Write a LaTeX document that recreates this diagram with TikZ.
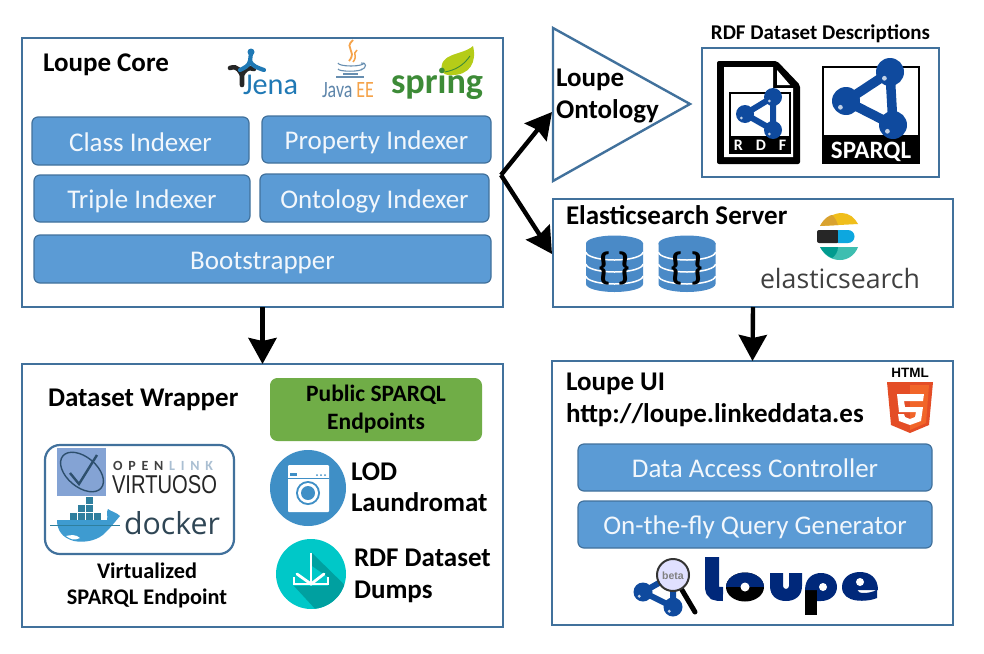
\documentclass[tikz,border=0pt]{standalone}
\usepackage{fontspec}
\usepackage{graphicx}
\setmainfont{Carlito}
\newfontfamily\osans{Open Sans}
\newfontfamily\hsans{Liberation Sans}
\usetikzlibrary{arrows.meta,shapes.geometric}
\definecolor{edgeblue}{HTML}{41719C}
\definecolor{fillblue}{HTML}{5B9BD5}
\definecolor{ballblue}{HTML}{0F4A9E}
\definecolor{loupeblue}{HTML}{00287A}
\definecolor{pubgreen}{HTML}{70AD47}
\definecolor{jenablue}{HTML}{2079B5}
\definecolor{springgreen}{HTML}{3D8B37}
\definecolor{leafgreen}{HTML}{B5CC18}
\definecolor{cylblue}{HTML}{4A8AC7}
\definecolor{washblue}{HTML}{3F8FC6}
\definecolor{dlcyan}{HTML}{00C8C8}
\definecolor{dlshadow}{HTML}{00A0A0}
\definecolor{whaleblue}{HTML}{3E9BD0}
\definecolor{whalebox}{HTML}{2F7F9E}
\definecolor{dockerink}{HTML}{2F4655}
\definecolor{htmlred}{HTML}{E44D26}
\definecolor{htmlorange}{HTML}{F16529}
\definecolor{javaorange}{HTML}{F5A34A}
\definecolor{esyellow}{HTML}{F0BE1B}
\definecolor{esamber}{HTML}{D9A22F}
\definecolor{esblue}{HTML}{0DA7DF}
\definecolor{esteal}{HTML}{3EBEB0}
\definecolor{esdeep}{HTML}{019B8F}
\definecolor{virtblue}{HTML}{84A3D4}
\tikzset{
  panel/.style={draw=edgeblue,line width=2.4pt,fill=white,anchor=north west,inner sep=0pt,outer sep=0pt},
  bluebox/.style={draw=edgeblue,line width=1.2pt,fill=fillblue,rounded corners=6pt,anchor=center,inner sep=0pt,text=white!92!fillblue,text height=20pt,text depth=0pt,font=\fontsize{27}{30}\selectfont},
  txt/.style={anchor=base west,inner sep=0pt,outer sep=0pt},
  ctxt/.style={anchor=base,inner sep=0pt,outer sep=0pt},
  bigarrow/.style={line width=4.4pt,black,-{Stealth[length=26pt,width=28pt,inset=3pt]}},
  sizeA/.style={font=\fontsize{27}{30}\selectfont\bfseries},
  sizeC/.style={font=\fontsize{22.3}{26}\selectfont\bfseries},
}
% one ball: #1 = centre, #2 = radius
\newcommand{\oneball}[2]{%
  \fill[ballblue] (#1) circle[radius=#2];
  \fill[white,opacity=.75] (#1) ++(-.4*#2,-.45*#2) circle[radius=.17*#2];}
% three-ball graph icon: #1 #2 #3 = centres, #4 = radius, #5 = link width
\newcommand{\ballgraph}[5]{%
  \draw[ballblue,line width=#5,line join=round] (#1) -- (#2) -- (#3) -- cycle;
  \oneball{#1}{#4}\oneball{#2}{#4}\oneball{#3}{#4}}
\begin{document}
\begin{tikzpicture}[x=1pt,y=-1pt]
\useasboundingbox (0,0) rectangle (984,653);
\fill[white] (0,0) rectangle (984,653);

% ---------- panels
\node[panel,minimum width=481pt,minimum height=269pt] (core) at (22,38) {};
\node[panel,minimum width=237pt,minimum height=129pt] (rdfbox) at (702,48) {};
\node[panel,minimum width=400pt,minimum height=108pt] (esbox) at (553,199) {};
\node[panel,minimum width=481pt,minimum height=263pt] (wrapper) at (22,364) {};
\node[panel,minimum width=401pt,minimum height=264pt] (ui) at (552,361) {};
\draw[edgeblue,line width=2.4pt,fill=white,line join=miter] (553,28) -- (690,104) -- (553,181) -- cycle;

% ---------- Loupe core content
\node[txt,sizeA] (coretitle) at (43,71) {Loupe Core};
\node[bluebox,minimum width=217pt,minimum height=48pt] (classidx) at (140.5,141) {Class Indexer};
\node[bluebox,minimum width=229pt,minimum height=47pt] (propidx) at (376.5,139.5) {Property Indexer};
\node[bluebox,minimum width=216pt,minimum height=47pt] (tripleidx) at (142,198.5) {Triple Indexer};
\node[bluebox,minimum width=229pt,minimum height=48pt] (ontoidx) at (374.5,198) {Ontology Indexer};
\node[bluebox,minimum width=457pt,minimum height=48pt] (boot) at (262.5,259) {Bootstrapper};

% Jena logo
\draw[black!85,line width=4.6pt,line cap=round] (230,68) .. controls (238,65) and (240,72) .. (242,75);
\draw[black!85,line width=4.6pt,line cap=round] (254,69) .. controls (248,66) and (244,71) .. (242,75) -- (242,85);
\draw[jenablue,line width=4.2pt,line cap=round] (251,53) -- (250,61) .. controls (249,66) and (244,68) .. (240,70);
\draw[jenablue,line width=4.2pt,line cap=round] (250,61) .. controls (252,66) and (258,68) .. (264,70);
\fill[jenablue] (251,52) circle[radius=3.5pt];
\node[txt,text=jenablue] (jenatxt) at (243,94) {\resizebox{55pt}{!}{\fontsize{30}{32}\selectfont Jena}};

% Java EE logo
\draw[javaorange,line width=1.8pt] (353,40) .. controls (343,49) and (358,50) .. (349,61);
\draw[javaorange,line width=1.5pt] (357,50) .. controls (352,54) and (358,56) .. (353,62);
\draw[edgeblue!80,line width=1.1pt] (338,63) arc[start angle=180,end angle=360,x radius=13pt,y radius=3pt];
\draw[edgeblue!80,line width=1.1pt] (338,69) arc[start angle=180,end angle=360,x radius=12pt,y radius=2.2pt];
\draw[edgeblue!80,line width=1.1pt] (343,74) -- (358,74);
\draw[edgeblue!80,line width=1.1pt] (336,77) -- (364,77);
\draw[edgeblue!80,line width=1.1pt] (361,63) .. controls (367,62) and (367,68) .. (361,70);
\node[txt] (javatxt) at (322,97) {\resizebox{52pt}{15pt}{\fontsize{22}{24}\selectfont\textcolor{edgeblue!85}{Java} \textcolor{javaorange}{EE}}};

% Spring logo
\fill[leafgreen] (442,72) .. controls (438,52) and (462,56) .. (473,46) .. controls (477,62) and (470,76) .. (450,75) .. controls (446,75) and (444,74) .. (442,72) -- cycle;
\draw[springgreen,line width=.9pt] (445,72) .. controls (455,70) and (463,66) .. (470,56);
\node[txt,text=springgreen] (springtxt) at (391,93) {\resizebox{92pt}{!}{\fontsize{30}{32}\selectfont\bfseries spring}};

% ---------- Ontology
\node[txt,sizeA] (ontoA) at (556,86) {Loupe};
\node[txt,sizeA] (ontoB) at (556,118) {Ontology};
\coordinate (ontotip) at (552,112);

% ---------- RDF dataset descriptions
\node[ctxt,font=\fontsize{21}{24}\selectfont\bfseries] (rdftitle) at (820.5,39.5) {RDF Dataset Descriptions};
% RDF file icon
\fill[black,rounded corners=2pt] (717,61) -- (777,61) -- (800,85) -- (800,164) -- (717,164) -- cycle;
\fill[white] (724,67) -- (773,67) -- (773,88) -- (793,88) -- (793,157) -- (724,157) -- cycle;
\fill[white] (777,70) -- (790,85) -- (777,85) -- cycle;
\draw[black,line width=1.2pt] (730,93) rectangle (790,153);
\fill[black] (730,136) rectangle (790,153);
\ballgraph{745,114}{773,97}{773,130}{9pt}{6pt}
\node[ctxt,text=white,font=\fontsize{16}{18}\selectfont\bfseries] (rdfword) at (760,150) {R\hspace{13pt}D\hspace{13pt}F};
% SPARQL icon
\draw[black,line width=1.6pt,fill=white] (823,67) rectangle (919,163);
\fill[black] (823,135) rectangle (919,163);
\ballgraph{846,101}{890,72}{893,125}{14pt}{9.5pt}
\node[ctxt,text=white,font=\fontsize{25}{28}\selectfont\bfseries] (sparqlword) at (871,158) {SPARQL};

% ---------- Elasticsearch
\node[txt,sizeA] (estitle) at (566,224) {Elasticsearch Server};
\foreach \nm/\cx in {cylA/614.5,cylB/687}{
  \begin{scope}[shift={(\cx,0)}]
    \fill[cylblue] (-28.5,243) -- (-28.5,284) arc[start angle=180,end angle=360,x radius=28.5pt,y radius=8pt] -- (28.5,243) -- cycle;
    \fill[cylblue] (0,243.5) ellipse[x radius=28.5pt,y radius=8pt];
    \draw[white,line width=1.5pt] (-28.5,252) arc[start angle=180,end angle=360,x radius=28.5pt,y radius=8pt];
    \draw[white,line width=1.5pt] (-28.5,264) arc[start angle=180,end angle=360,x radius=28.5pt,y radius=8pt];
    \draw[white,line width=1.5pt] (-28.5,276) arc[start angle=180,end angle=360,x radius=28.5pt,y radius=8pt];
    \node[ctxt,font=\fontsize{38}{40}\selectfont\bfseries] (\nm) at (0,279) {\{\,\}};
  \end{scope}
}
% Elastic logo
\fill[esyellow] (820,226) .. controls (825,217) and (835,213) .. (842,213) .. controls (849,213) and (855,218) .. (858,224) -- cycle;
\fill[esamber] (820,226) .. controls (824,218) and (830,215) .. (832,215) .. controls (835,217) and (837,222) .. (838,225) -- cycle;
\fill[black!85,rounded corners=2pt] (817,230) rectangle (839,243);
\fill[esblue] (838,230) -- (848,230) arc[start angle=90,end angle=-90,radius=6.5pt] -- (838,243) -- cycle;
\fill[esteal] (820,247) -- (858,247) .. controls (855,255) and (848,260) .. (840,260) .. controls (831,260) and (824,255) .. (820,247) -- cycle;
\fill[esdeep] (820,247) -- (838,247) .. controls (838,252) and (835,256) .. (832,258) .. controls (827,256) and (823,252) .. (820,247) -- cycle;
\node[txt,text=black!75] (eswordmark) at (760,288) {\resizebox{160pt}{!}{\osans\fontsize{30}{32}\selectfont elasticsearch}};

% ---------- Dataset wrapper
\node[txt,sizeA] (wraptitle) at (48,406) {Dataset Wrapper};
\node[draw=pubgreen,fill=pubgreen,line width=1pt,rounded corners=7pt,minimum width=211pt,minimum height=62pt,inner sep=0pt,align=center,text=black,font=\fontsize{23.5}{28}\selectfont\bfseries] (public) at (376,409.5) {Public SPARQL\\Endpoints};
\node[draw=edgeblue,line width=2.2pt,fill=white,rounded corners=15pt,minimum width=189pt,minimum height=109pt,inner sep=0pt] (vbox) at (139.5,499.5) {};
% Virtuoso
\fill[virtblue] (57,448) rectangle (106,496);
\draw[edgeblue!70!black,line width=1.4pt,rotate around={-40:(82,472)}] (82,472) ellipse[x radius=25pt,y radius=15pt];
\draw[edgeblue!70!black,line width=2.4pt] (70,473) -- (79,484) -- (97,455);
\node[txt,font=\fontsize{14}{16}\selectfont\bfseries] (openlink) at (113,470) {\textcolor{black!75}{O\hspace{5.8pt}P\hspace{5.8pt}E\hspace{5.8pt}N}\hspace{5.8pt}\textcolor{edgeblue!45}{L\hspace{5.8pt}I\hspace{5.8pt}N\hspace{5.8pt}K}};
\node[txt,text=black!85] (virtuoso) at (112,493) {\resizebox{105pt}{18pt}{\hsans VIRTUOSO}};
% Docker
\fill[whaleblue] (57,520) -- (107,520) .. controls (108,516) and (106,512) .. (108,509) .. controls (112,512) and (116,512) .. (120,516) .. controls (114,523) and (111,527) .. (106,532) .. controls (98,541) and (84,543) .. (74,541) .. controls (62,538) and (57,530) .. (57,520) -- cycle;
\fill[white] (66,536) .. controls (70,535) and (76,534) .. (80,538) .. controls (74,541) and (70,539) .. (66,536) -- cycle;
\foreach \bx/\by in {70/513,78/513,86/513,94/513,78/505,86/505,86/497}{
  \fill[whalebox] (\bx,\by) rectangle ++(7,7);
}
\draw[whalebox,line width=.6pt] (50,525) -- (120,525);
\node[txt,text=dockerink] (dockerword) at (124,534) {\resizebox{96pt}{!}{\osans\fontsize{30}{32}\selectfont docker}};
\node[ctxt,sizeC] (virtA) at (147,578) {Virtualized};
\node[ctxt,sizeC] (virtB) at (147,604) {SPARQL Endpoint};

% Washer icon
\fill[washblue] (308,488) circle[radius=38pt];
\fill[white,rounded corners=1pt] (288,465) rectangle (329,512);
\draw[washblue,line width=.6pt] (288,478) -- (329,478);
\fill[washblue] (290,473) rectangle (297,476);
\foreach \dx in {317,321,325}{\fill[washblue] (\dx,475) circle[radius=1pt];}
\fill[washblue] (308,493) circle[radius=12pt];
\fill[white] (308,493) circle[radius=10pt];
\fill[washblue] (308,493) circle[radius=7pt];
\node[txt,sizeA] (lodA) at (351,480) {LOD};
\node[txt,sizeA] (lodB) at (351,511) {Laundromat};

% Download icon
\fill[dlcyan] (311,574) circle[radius=35pt];
\begin{scope}
  \clip (311,574) circle[radius=35pt];
  \fill[dlshadow] (312,553) -- (360,600) -- (330,625) -- (294,586) -- (328,586) -- (328,577) -- (312,566) -- cycle;
\end{scope}
\draw[white,line width=2.8pt] (311,553) -- (311,583);
\draw[white,line width=2.8pt,line cap=round,line join=miter] (297,574) -- (311,584) -- (324,574);
\draw[white,line width=2.6pt] (294,577) -- (294,584) -- (328,584) -- (328,577);
\node[txt,sizeA] (dumpA) at (354,566) {RDF Dataset};
\node[txt,sizeA] (dumpB) at (354,598) {Dumps};

% ---------- Loupe UI
\node[txt,sizeA] (uiA) at (566,390) {Loupe UI};
\node[txt,sizeA] (uiB) at (566,422) {http://loupe.linkeddata.es};
\node[bluebox,minimum width=354pt,minimum height=47pt] (dac) at (755,467.5) {Data Access Controller};
\node[bluebox,minimum width=354pt,minimum height=47pt] (qgen) at (755,524.5) {On-the-fly Query Generator};
% HTML5 logo
\node[ctxt,font=\hsans\fontsize{13.5}{14}\selectfont\bfseries] (htmlword) at (910,377) {HTML};
\fill[htmlred] (887,382) -- (933,382) -- (929,425) -- (910,433) -- (891,425) -- cycle;
\fill[htmlorange] (910,385) -- (929,385) -- (926,423) -- (910,430) -- cycle;
\fill[white] (897,394) -- (924,394) -- (923,401) -- (904,401) -- (905,407) -- (923,407) -- (921,421) -- (910,425) -- (899,421) -- (898,414) -- (904,414) -- (905,417) -- (910,419) -- (915,417) -- (916,412) -- (899,412) -- cycle;

% Loupe logo
\ballgraph{643,592}{673,607}{673,575}{9.5pt}{6pt}
\draw[black,line width=5pt,line cap=round] (682,590) -- (695,612);
\fill[blue!12!white] (673,575) circle[radius=15pt];
\draw[black!80,line width=2pt] (673,575) circle[radius=16pt];
\node[ctxt,text=gray,font=\hsans\fontsize{10.5}{12}\selectfont\bfseries] (betaword) at (673,579) {beta};
\draw[loupeblue,line width=14pt] (712,557) -- (712,586) .. controls (712,594) and (716,594) .. (723,594);
\fill[black] (745,587) ellipse[x radius=19pt,y radius=14.5pt];
\begin{scope}
  \clip (725,570) rectangle (765,586);
  \fill[loupeblue] (745,587) ellipse[x radius=19pt,y radius=14.5pt];
\end{scope}
\fill[white] (745,587) circle[radius=4.5pt];
\fill[loupeblue] (770,573) -- (783,573) -- (783,586) arc[start angle=180,end angle=360,radius=3pt] -- (789,573) -- (802,573) -- (802,586) .. controls (802,596) and (795,601) .. (786,601) .. controls (777,601) and (770,596) .. (770,586) -- cycle;
\fill[black] (805,590) rectangle (817,615);
\fill[loupeblue] (805,590) .. controls (805,578) and (813,573) .. (821,573) .. controls (830,573) and (837,579) .. (837,587) .. controls (837,595) and (830,601) .. (821,601) -- (817,601) -- (817,590) -- cycle;
\fill[white] (823,587) circle[radius=4pt];
\fill[loupeblue] (842,587) .. controls (842,578) and (850,572) .. (860,572) .. controls (870,572) and (878,578) .. (878,590) -- (857,590) .. controls (858,594) and (868,594) .. (877,590) -- (877,598) .. controls (868,602) and (842,604) .. (842,587) -- cycle;
\fill[white] (860,582) circle[radius=4pt];

% ---------- connectors
\coordinate (junction) at (501,175);
\coordinate (estip) at (552,254);
\draw[bigarrow] (junction) -- (ontotip);
\draw[bigarrow] (junction) -- (estip);
\draw[bigarrow] (core.south) -- (wrapper.north);
\draw[bigarrow] (esbox.south) -- (ui.north);
\end{tikzpicture}
\end{document}
